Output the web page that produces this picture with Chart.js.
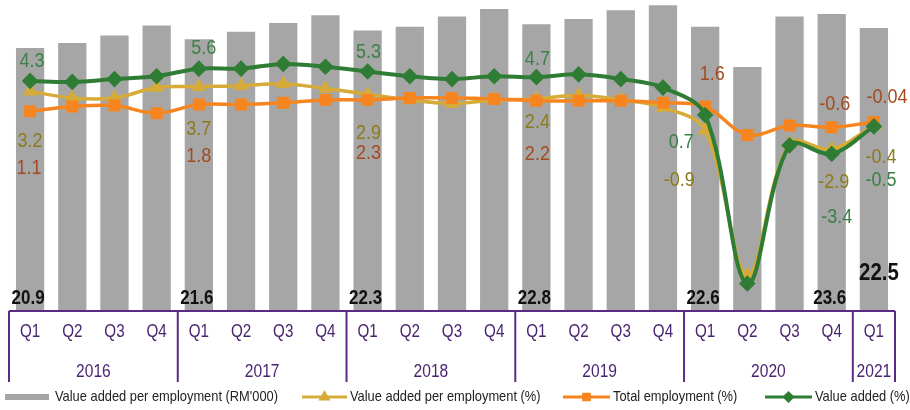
<!DOCTYPE html>
<html>
<head>
<meta charset="utf-8">
<script src="https://cdn.jsdelivr.net/npm/chart.js@4.4.0/dist/chart.umd.min.js"></script>
<style>
  body { margin: 0; background: #fff; }
  #wrap { width: 910px; height: 410px; }
</style>
</head>
<body>
<div id="wrap"><canvas id="chart" width="910" height="410"></canvas></div>
<script>
const quarters = ['Q1', 'Q2', 'Q3', 'Q4', 'Q1', 'Q2', 'Q3', 'Q4', 'Q1', 'Q2', 'Q3', 'Q4',
                  'Q1', 'Q2', 'Q3', 'Q4', 'Q1', 'Q2', 'Q3', 'Q4', 'Q1'];
const years = ['2016', '2017', '2018', '2019', '2020', '2021'];
const quartersPerYear = [4, 4, 4, 4, 4, 1];

// RM'000, bars
const valueAddedPerEmp = [20.9, 21.3, 21.9, 22.7, 21.6, 22.2, 22.9, 23.5, 22.3, 22.6, 23.4, 24.0,
                          22.8, 23.2, 23.9, 24.3, 22.6, 19.4, 23.4, 23.6, 22.5];
// growth, %
const valueAddedPerEmpPct = [3.2, 2.5, 2.5, 3.6, 3.7, 3.8, 4.0, 3.5, 2.9, 2.3, 1.9, 2.3,
                             2.4, 2.8, 2.3, 1.5, -0.9, -16.2, -2.3, -2.9, -0.4];
const totalEmploymentPct = [1.1, 1.6, 1.7, 0.9, 1.8, 1.8, 2.0, 2.3, 2.3, 2.5, 2.5, 2.4,
                            2.2, 2.2, 2.2, 2.0, 1.6, -1.4, -0.4, -0.6, -0.04];
const valueAddedPct = [4.3, 4.2, 4.5, 4.8, 5.6, 5.6, 6.1, 5.8, 5.3, 4.8, 4.5, 4.8,
                       4.7, 5.0, 4.5, 3.6, 0.7, -17.1, -2.5, -3.4, -0.5];

const FONT = '"Liberation Sans", Arial, sans-serif';
const PURPLE = '#5a2a86';
const AXIS_TEXT = '#4a2470';
const GRAY = '#a6a6a6';
const GOLD = '#d6ab38';
const ORANGE = '#f7851f';
const GREEN = '#2f7d34';

// which points get a value label, and where it sits relative to the point
const labelSpots = [
    { ds: 3, color: '#3c8048', at: [[0, 2, -19], [4, 5, -20], [8, 1, -19], [12, 1, -18], [16, -24, 27], [19, 5, 64], [20, 7, 54]] },
    { ds: 1, color: '#8c7b1e', at: [[0, 0, 50], [4, 0, 43], [8, 1, 39], [12, 1, 24], [16, -26, 50], [19, 2, 33], [20, 7, 32]] },
    { ds: 2, color: '#a34b1f', at: [[0, -1, 57], [4, 0, 52], [8, 1, 54], [12, 1, 54], [16, 7, -32], [19, 3, -23], [20, 13, -25]] }
];
const barLabelIdx = [0, 4, 8, 12, 16, 19];

// the source uses a narrow face; squeeze Liberation Sans horizontally
function squeezeText(ctx, text, x, y, sx) {
    ctx.save();
    ctx.translate(x, y);
    ctx.scale(sx, 1);
    ctx.fillText(text, 0, 0);
    ctx.restore();
}

const overlay = {
    id: 'overlay',
    afterDatasetsDraw(chart) {
        const ctx = chart.ctx;
        const area = chart.chartArea;
        ctx.save();
        ctx.textAlign = 'center';
        ctx.textBaseline = 'middle';

        // bar value labels
        const bars = chart.getDatasetMeta(0).data;
        ctx.fillStyle = '#111';
        ctx.font = 'bold 20px ' + FONT;
        barLabelIdx.forEach(i => {
            squeezeText(ctx, valueAddedPerEmp[i].toString(), bars[i].x - 2, area.bottom - 13, 0.85);
        });
        ctx.font = 'bold 24px ' + FONT;
        squeezeText(ctx, valueAddedPerEmp[20].toString(), bars[20].x + 5, 273, 0.85);

        // line value labels
        ctx.font = '20px ' + FONT;
        labelSpots.forEach(s => {
            const pts = chart.getDatasetMeta(s.ds).data;
            const vals = chart.data.datasets[s.ds].data;
            ctx.fillStyle = s.color;
            s.at.forEach(([i, dx, dy]) => {
                squeezeText(ctx, vals[i].toString(), pts[i].x + dx, pts[i].y + dy, 0.9);
            });
        });
        ctx.restore();
    },
    afterDraw(chart) {
        const ctx = chart.ctx;
        const area = chart.chartArea;
        const x = chart.scales.x;
        const step = x.getPixelForValue(1) - x.getPixelForValue(0);
        const axisY = area.bottom;
        const frameBottom = axisY + 71;

        ctx.save();
        ctx.strokeStyle = PURPLE;
        ctx.lineWidth = 2;
        ctx.beginPath();
        ctx.moveTo(area.left, axisY);
        ctx.lineTo(area.right, axisY);
        ctx.stroke();

        ctx.fillStyle = AXIS_TEXT;
        ctx.textAlign = 'center';
        ctx.textBaseline = 'middle';
        ctx.font = '19px ' + FONT;
        quarters.forEach((q, i) => {
            squeezeText(ctx, q, x.getPixelForValue(i), axisY + 21, 0.8);
        });

        let start = 0;
        years.forEach((yr, k) => {
            const n = quartersPerYear[k];
            const x0 = x.getPixelForValue(start) - step / 2;
            const x1 = x.getPixelForValue(start + n - 1) + step / 2;
            ctx.beginPath();
            ctx.moveTo(x0, axisY);
            ctx.lineTo(x0, frameBottom);
            ctx.stroke();
            if (k === years.length - 1) {
                ctx.beginPath();
                ctx.moveTo(x1, axisY);
                ctx.lineTo(x1, frameBottom);
                ctx.stroke();
            }
            squeezeText(ctx, yr, (x0 + x1) / 2, axisY + 61, 0.82);
            start += n;
        });

        // legend
        const ly = 397;
        ctx.font = '15px ' + FONT;
        ctx.textAlign = 'left';
        const first = "Value added per employment (RM'000)";
        const sx = 223 / ctx.measureText(first).width;

        ctx.fillStyle = GRAY;
        ctx.fillRect(5, ly - 3, 44, 6);
        ctx.fillStyle = '#222';
        squeezeText(ctx, first, 55, ly, sx);

        const lineItems = [
            { x0: 302, x1: 347, color: GOLD, marker: 'triangle', text: 'Value added per employment (%)' },
            { x0: 563, x1: 610, color: ORANGE, marker: 'rect', text: 'Total employment (%)' },
            { x0: 765, x1: 812, color: GREEN, marker: 'rectRot', text: 'Value added (%)' }
        ];
        lineItems.forEach(it => {
            ctx.strokeStyle = it.color;
            ctx.fillStyle = it.color;
            ctx.lineWidth = 3;
            ctx.beginPath();
            ctx.moveTo(it.x0, ly);
            ctx.lineTo(it.x1, ly);
            ctx.stroke();
            Chart.helpers.drawPoint(ctx, { pointStyle: it.marker, radius: 4, borderWidth: 1 }, (it.x0 + it.x1) / 2, ly);
            ctx.fillStyle = '#222';
            squeezeText(ctx, it.text, it.x1 + 3, ly, sx);
        });
        ctx.restore();
    }
};

new Chart(document.getElementById('chart'), {
    type: 'bar',
    data: {
        labels: quarters,
        datasets: [{
            type: 'bar',
            label: "Value added per employment (RM'000)",
            data: valueAddedPerEmp,
            backgroundColor: GRAY,
            barPercentage: 0.67,
            categoryPercentage: 1,
            yAxisID: 'yBar',
            order: 4
        }, {
            type: 'line',
            label: 'Value added per employment (%)',
            data: valueAddedPerEmpPct,
            borderColor: GOLD,
            backgroundColor: GOLD,
            borderWidth: 3.5,
            pointStyle: 'triangle',
            pointRadius: 5,
            tension: 0.35,
            yAxisID: 'yPct',
            order: 3
        }, {
            type: 'line',
            label: 'Total employment (%)',
            data: totalEmploymentPct,
            borderColor: ORANGE,
            backgroundColor: ORANGE,
            borderWidth: 3.5,
            pointStyle: 'rect',
            pointRadius: 6,
            tension: 0.35,
            yAxisID: 'yPct',
            order: 2
        }, {
            type: 'line',
            label: 'Value added (%)',
            data: valueAddedPct,
            borderColor: GREEN,
            backgroundColor: GREEN,
            borderWidth: 4,
            pointStyle: 'rectRot',
            pointRadius: 5.5,
            tension: 0.35,
            yAxisID: 'yPct',
            order: 1
        }]
    },
    options: {
        responsive: false,
        animation: false,
        layout: { autoPadding: false, padding: { left: 9, right: 15, top: 0, bottom: 0 } },
        plugins: {
            legend: { display: false },
            tooltip: { enabled: false }
        },
        scales: {
            x: {
                grid: { display: false, drawTicks: false },
                border: { display: false },
                ticks: { display: false },
                afterFit(scale) { scale.height = 99; }
            },
            yBar: {
                display: false,
                min: 0,
                max: 24.72
            },
            yPct: {
                display: false,
                min: -20,
                max: 12.85
            }
        }
    },
    plugins: [overlay]
});
</script>
</body>
</html>
